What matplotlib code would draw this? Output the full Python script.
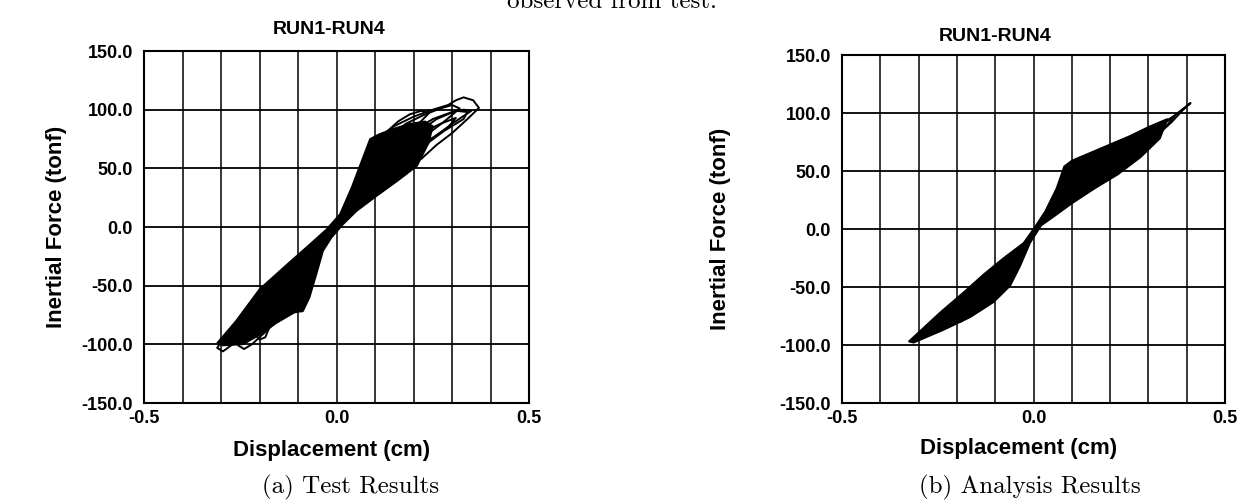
import matplotlib.pyplot as plt
from matplotlib.patches import Polygon

plt.rcParams['font.family'] = ['Liberation Sans', 'DejaVu Sans']

# axis layout values
disp_grid = [-0.5, -0.4, -0.3, -0.2, -0.1, 0.0, 0.1, 0.2, 0.3, 0.4, 0.5]
disp_ticks = [-0.5, 0.0, 0.5]
disp_labels = ['-0.5', '0.0', '0.5']
force_ticks = [-150, -100, -50, 0, 50, 100, 150]
force_labels = ['-150.0', '-100.0', '-50.0', '0.0', '50.0', '100.0', '150.0']

# test results: dense core of the hysteresis band (displacement cm, force tonf)
test_core_disp = [-0.309, -0.261, -0.200, -0.122, -0.070, -0.026, 0.009, 0.039, 0.065,
                  0.087, 0.110, 0.150, 0.190, 0.230, 0.250, 0.240, 0.209, 0.157, 0.104,
                  0.052, 0.017, -0.013, -0.035, -0.052, -0.070, -0.087, -0.110, -0.157,
                  -0.200, -0.243, -0.296]
test_core_force = [-98.5, -80.0, -53.0, -30.0, -15.0, -2.0, 11.0, 33.5, 56.0,
                   75.0, 79.0, 84.0, 88.0, 90.0, 86.0, 72.0, 52.0, 39.0, 26.4,
                   13.6, 2.3, -9.0, -20.4, -40.0, -60.0, -71.6, -73.0, -82.0,
                   -92.0, -100.0, -101.0]

# test results: individual loops leaving the core
test_loop1_disp = [0.10, 0.15, 0.20, 0.25, 0.29, 0.31, 0.33, 0.355, 0.37, 0.34, 0.30, 0.26, 0.22, 0.18]
test_loop1_force = [74, 86, 94, 100, 104, 108, 110.5, 108, 101.5, 92, 80, 70, 58, 52]
test_loop2_disp = [0.11, 0.16, 0.19, 0.22, 0.24, 0.21, 0.17, 0.14]
test_loop2_force = [75, 90, 96, 99, 97, 87, 76, 70]
test_loop3_disp = [0.13, 0.18, 0.23, 0.27, 0.30, 0.32, 0.28, 0.24, 0.19]
test_loop3_force = [74, 88, 96, 101, 104, 101, 90, 80, 68]
test_loop4_disp = [0.15, 0.20, 0.25, 0.30, 0.33, 0.35, 0.30, 0.26, 0.21]
test_loop4_force = [70, 82, 92, 98, 100, 99, 88, 78, 64]
test_loop5_disp = [0.17, 0.22, 0.27, 0.31, 0.29, 0.24, 0.20]
test_loop5_force = [68, 80, 88, 93, 85, 74, 62]
test_loop6_disp = [0.20, 0.26, 0.31, 0.34, 0.33, 0.28, 0.23]
test_loop6_force = [78, 92, 99, 98, 92, 82, 70]
test_loop7_disp = [-0.12, -0.17, -0.22, -0.27, -0.30, -0.31, -0.295, -0.27, -0.24, -0.20, -0.15, -0.11]
test_loop7_force = [-45, -60, -75, -88, -98, -103, -106, -100, -95, -88, -78, -65]
test_loop8_disp = [-0.14, -0.19, -0.24, -0.26, -0.255, -0.24, -0.22, -0.18, -0.14]
test_loop8_force = [-55, -70, -85, -92, -101, -104, -100, -88, -75]
test_loop9_disp = [-0.08, -0.10, -0.11, -0.105, -0.09, -0.075, -0.065]
test_loop9_force = [-40, -55, -64, -70, -72, -62, -48]
test_loop10_disp = [-0.17, -0.21, -0.215, -0.20, -0.185, -0.17]
test_loop10_force = [-65, -80, -90, -96, -94, -82]

# analysis results: dense core of the hysteresis band
anal_core_disp = [-0.326, -0.243, -0.183, -0.130, -0.078, -0.026, 0.0, 0.03, 0.06, 0.08,
                  0.10, 0.15, 0.20, 0.25, 0.30, 0.35, 0.33, 0.28, 0.22, 0.16, 0.10,
                  0.05, 0.02, -0.009, -0.035, -0.061, -0.104, -0.165, -0.235, -0.313]
anal_core_force = [-97.0, -71.7, -54.7, -39.0, -25.0, -12.0, 0.0, 15.0, 35.0, 54.0,
                   59.0, 66.0, 73.0, 80.0, 88.0, 95.0, 78.0, 62.0, 47.0, 35.0, 22.0,
                   10.0, 3.0, -12.0, -32.0, -49.0, -63.0, -76.0, -87.0, -98.0]

# analysis results: outer loops
anal_loop1_disp = [0.25, 0.30, 0.35, 0.38, 0.41, 0.39, 0.36, 0.33, 0.30, 0.26]
anal_loop1_force = [70, 82, 93, 101, 108.6, 102.6, 92, 83, 73, 63]
anal_loop2_disp = [0.28, 0.33, 0.37, 0.35, 0.31]
anal_loop2_force = [78, 90, 98, 90, 80]
anal_loop3_disp = [-0.20, -0.25, -0.31, -0.28, -0.23, -0.18]
anal_loop3_force = [-62, -78, -94, -90, -80, -70]
anal_loop4_disp = [-0.12, -0.17, -0.21, -0.19, -0.14]
anal_loop4_force = [-55, -68, -79, -80, -68]

test_loops = [(test_loop1_disp, test_loop1_force), (test_loop2_disp, test_loop2_force),
              (test_loop3_disp, test_loop3_force), (test_loop4_disp, test_loop4_force),
              (test_loop5_disp, test_loop5_force), (test_loop6_disp, test_loop6_force),
              (test_loop7_disp, test_loop7_force), (test_loop8_disp, test_loop8_force),
              (test_loop9_disp, test_loop9_force), (test_loop10_disp, test_loop10_force)]
anal_loops = [(anal_loop1_disp, anal_loop1_force), (anal_loop2_disp, anal_loop2_force),
              (anal_loop3_disp, anal_loop3_force), (anal_loop4_disp, anal_loop4_force)]


def draw_panel(ax, core_x, core_y, loops):
    ax.set_xlim(-0.5, 0.5)
    ax.set_ylim(-150, 150)
    for g in disp_grid[1:-1]:
        ax.axvline(g, color='black', lw=1.1, zorder=1)
    for g in force_ticks[1:-1]:
        ax.axhline(g, color='black', lw=1.3, zorder=1)
    ax.add_patch(Polygon(list(zip(core_x, core_y)), closed=True, facecolor='black',
                         edgecolor='black', lw=1.2, zorder=3))
    for lx, ly in loops:
        ax.plot(lx + lx[:1], ly + ly[:1], color='black', lw=1.4, zorder=4)
    ax.set_xticks(disp_ticks)
    ax.set_xticklabels(disp_labels, fontweight='bold')
    ax.set_yticks(force_ticks)
    ax.set_yticklabels(force_labels, fontweight='bold')
    ax.tick_params(length=0, labelsize=13)
    ax.tick_params(axis='y', pad=8)
    ax.tick_params(axis='x', pad=5)
    for s in ax.spines.values():
        s.set_linewidth(1.5)
    ax.set_xlabel('Displacement (cm)', fontsize=16, fontweight='bold')
    ax.set_ylabel('Inertial Force (tonf)', fontsize=16, fontweight='bold')


fig = plt.figure(figsize=(12.48, 5.03), dpi=100)
ax1 = fig.add_axes([0.1154, 0.1988, 0.3085, 0.6998])
ax2 = fig.add_axes([0.6747, 0.1988, 0.3069, 0.6918])

draw_panel(ax1, test_core_disp, test_core_force, test_loops)
draw_panel(ax2, anal_core_disp, anal_core_force, anal_loops)

ax1.xaxis.set_label_coords(0.486, -0.105)
ax1.yaxis.set_label_coords(-0.20, 0.5)
ax2.xaxis.set_label_coords(0.46, -0.10)
ax2.yaxis.set_label_coords(-0.29, 0.5)

ax1.set_title('RUN1-RUN4', fontsize=14, fontweight='bold', x=0.48, pad=12)
ax2.set_title('RUN1-RUN4', fontsize=14, fontweight='bold', x=0.40, pad=10)

fig.text(0.49, 0.985, 'observed from test.', family='cmr10', fontsize=18,
         ha='center', va='baseline')
fig.text(0.281, 0.018, '(a) Test Results', family='cmr10', fontsize=18, ha='center')
fig.text(0.825, 0.018, '(b) Analysis Results', family='cmr10', fontsize=18, ha='center')

fig.savefig('out.png', dpi=100)
